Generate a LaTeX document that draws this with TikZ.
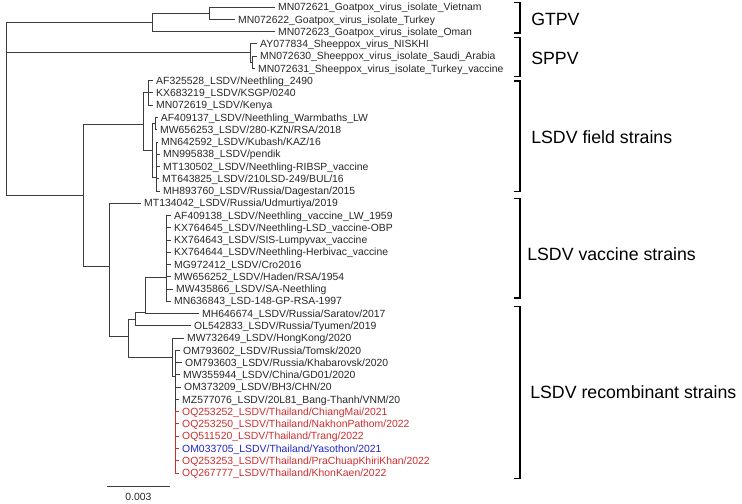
\documentclass[tikz,border=0pt]{standalone}
\usepackage{fontspec}
\setmainfont{Liberation Sans}
\definecolor{thred}{RGB}{205,45,45}
\definecolor{thblue}{RGB}{35,35,200}
\definecolor{branch}{RGB}{60,60,60}
\tikzset{
  leaf/.style={anchor=west, inner sep=2pt, text height=5.6pt, text depth=0pt, font=\fontsize{7.8}{9}\selectfont, text=black!85},
  grp/.style={anchor=west, inner sep=0pt, text height=9.5pt, text depth=0pt, font=\fontsize{13.3}{15}\selectfont},
  edge/.style={draw=branch, line width=0.6pt},
  redge/.style={draw=thred, line width=0.6pt}
}
\begin{document}
\begin{tikzpicture}[x=0.75pt, y=-0.75pt]
\useasboundingbox (0,0) rectangle (742,503);
% inner vertices
\coordinate (int0) at (6,108);
\coordinate (gtp0) at (152,22.3);
\coordinate (gtp1) at (209,13.1);
\coordinate (spp0) at (250,52);
\coordinate (spp1) at (252,62.2);
\coordinate (lsd0) at (83,195);
\coordinate (fld0) at (143,124);
\coordinate (fld1) at (148,92.8);
\coordinate (fld2) at (152,150);
\coordinate (fld3) at (155,123.5);
\coordinate (fld4) at (156,177);
\coordinate (vac0) at (109,266);
\coordinate (vac1) at (128,336);
\coordinate (vac2) at (135,319);
\coordinate (vac3) at (145,312);
\coordinate (vac4) at (166,277);
\coordinate (rec0) at (172,357);
\coordinate (rec1) at (175,376);
\coordinate (rec2) at (175,442);
% GTPV
\node[leaf] (tip1) at (275.3,7.0){MN072621\_Goatpox\_virus\_isolate\_Vietnam};
\node[leaf] (tip2) at (235.3,19.3){MN072622\_Goatpox\_virus\_isolate\_Turkey};
\node[leaf] (tip3) at (275.3,31.5){MN072623\_Goatpox\_virus\_isolate\_Oman};
\draw[edge](gtp1) |- (tip1.west);
\draw[edge](gtp1) |- (tip2.west);
\draw[edge](gtp0) |- (gtp1);
\draw[edge](gtp0) |- (tip3.west);
% SPPV
\node[leaf] (tip4) at (257.3,43.8){AY077834\_Sheeppox\_virus\_NISKHI};
\node[leaf] (tip5) at (257.3,56.0){MN072630\_Sheeppox\_virus\_isolate\_Saudi\_Arabia};
\node[leaf] (tip6) at (255.3,68.3){MN072631\_Sheeppox\_virus\_isolate\_Turkey\_vaccine};
\draw[edge](spp1) |- (tip5.west);
\draw[edge](spp1) |- (tip6.west);
\draw[edge](spp0) |- (tip4.west);
\draw[edge](spp0) |- (spp1);
% LSDV field strains
\node[leaf] (tip7) at (153.3,80.6){AF325528\_LSDV/Neethling\_2490};
\node[leaf] (tip8) at (153.3,92.8){KX683219\_LSDV/KSGP/0240};
\node[leaf] (tip9) at (153.3,105.1){MN072619\_LSDV/Kenya};
\node[leaf] (tip10) at (158.0,117.3){AF409137\_LSDV/Neethling\_Warmbaths\_LW};
\node[leaf] (tip11) at (157.3,129.6){MW656253\_LSDV/280-KZN/RSA/2018};
\node[leaf] (tip12) at (158.3,141.9){MN642592\_LSDV/Kubash/KAZ/16};
\node[leaf] (tip13) at (160.3,154.1){MN995838\_LSDV/pendik};
\node[leaf] (tip14) at (160.3,166.4){MT130502\_LSDV/Neethling-RIBSP\_vaccine};
\node[leaf] (tip15) at (159.3,178.6){MT643825\_LSDV/210LSD-249/BUL/16};
\node[leaf] (tip16) at (160.3,190.9){MH893760\_LSDV/Russia/Dagestan/2015};
\draw[edge](fld1) |- (tip7.west);
\draw[edge](fld1) |- (tip8.west);
\draw[edge](fld1) |- (tip9.west);
\draw[edge](fld3) |- (tip10.west);
\draw[edge](fld3) |- (tip11.west);
\draw[edge](fld4) |- (tip12.west);
\draw[edge](fld4) |- (tip13.west);
\draw[edge](fld4) |- (tip14.west);
\draw[edge](fld4) |- (tip15.west);
\draw[edge](fld4) |- (tip16.west);
\draw[edge](fld2) |- (fld3);
\draw[edge](fld2) |- (fld4);
\draw[edge](fld0) |- (fld1);
\draw[edge](fld0) |- (fld2);
% LSDV vaccine strains
\node[leaf] (tip17) at (141.3,203.2){MT134042\_LSDV/Russia/Udmurtiya/2019};
\node[leaf] (tip18) at (171.3,215.4){AF409138\_LSDV/Neethling\_vaccine\_LW\_1959};
\node[leaf] (tip19) at (171.3,227.7){KX764645\_LSDV/Neethling-LSD\_vaccine-OBP};
\node[leaf] (tip20) at (171.3,239.9){KX764643\_LSDV/SIS-Lumpyvax\_vaccine};
\node[leaf] (tip21) at (171.3,252.2){KX764644\_LSDV/Neethling-Herbivac\_vaccine};
\node[leaf] (tip22) at (171.3,264.5){MG972412\_LSDV/Cro2016};
\node[leaf] (tip23) at (171.3,276.7){MW656252\_LSDV/Haden/RSA/1954};
\node[leaf] (tip24) at (173.3,289.0){MW435866\_LSDV/SA-Neethling};
\node[leaf] (tip25) at (171.3,301.2){MN636843\_LSD-148-GP-RSA-1997};
\foreach \i in {18,...,25}
  \draw[edge](vac4) |- (tip\i.west);
% LSDV recombinant strains
\node[leaf] (tip26) at (199.3,313.5){MH646674\_LSDV/Russia/Saratov/2017};
\node[leaf] (tip27) at (191.3,325.8){OL542833\_LSDV/Russia/Tyumen/2019};
\node[leaf] (tip28) at (184.3,338.0){MW732649\_LSDV/HongKong/2020};
\node[leaf] (tip29) at (180.3,350.3){OM793602\_LSDV/Russia/Tomsk/2020};
\node[leaf] (tip30) at (182.3,362.5){OM793603\_LSDV/Russia/Khabarovsk/2020};
\node[leaf] (tip31) at (180.3,374.8){MW355944\_LSDV/China/GD01/2020};
\node[leaf] (tip32) at (181.3,387.1){OM373209\_LSDV/BH3/CHN/20};
\node[leaf] (tip33) at (179.3,399.3){MZ577076\_LSDV/20L81\_Bang-Thanh/VNM/20};
\node[leaf, text=thred] (tip34) at (179.3,411.6){OQ253252\_LSDV/Thailand/ChiangMai/2021};
\node[leaf, text=thred] (tip35) at (179.3,423.8){OQ253250\_LSDV/Thailand/NakhonPathom/2022};
\node[leaf, text=thred] (tip36) at (179.3,436.1){OQ511520\_LSDV/Thailand/Trang/2022};
\node[leaf, text=thblue] (tip37) at (179.3,448.4){OM033705\_LSDV/Thailand/Yasothon/2021};
\node[leaf, text=thred] (tip38) at (179.3,460.6){OQ253253\_LSDV/Thailand/PraChuapKhiriKhan/2022};
\node[leaf, text=thred] (tip39) at (179.3,472.9){OQ267777\_LSDV/Thailand/KhonKaen/2022};
\foreach \i in {29,...,33}
  \draw[edge](rec1) |- (tip\i.west);
\draw[edge](rec1) |- (rec2);
\foreach \i in {34,...,39}
  \draw[redge](rec2) |- (tip\i.west);
\draw[edge](rec0) |- (tip28.west);
\draw[edge](rec0) |- (rec1);
\draw[edge](vac3) |- (vac4);
\draw[edge](vac3) |- (tip26.west);
\draw[edge](vac2) |- (vac3);
\draw[edge](vac2) |- (tip27.west);
\draw[edge](vac1) |- (vac2);
\draw[edge](vac1) |- (rec0);
\draw[edge](vac0) |- (tip17.west);
\draw[edge](vac0) |- (vac1);
\draw[edge](lsd0) |- (fld0);
\draw[edge](lsd0) |- (vac0);
% root
\draw[edge](int0) |- (gtp0);
\draw[edge](int0) |- (spp0);
\draw[edge](int0) |- (lsd0);
% clade brackets
\draw[line width=0.9pt] (514,2.7) -| (520,33) -- (514,33);
\draw[line width=0.9pt] (514,37.7) -| (520,76.7) -- (514,76.7);
\draw[line width=0.9pt] (514,81) -| (520,191.7) -- (514,191.7);
\draw[line width=0.9pt] (514,198.3) -| (520,298) -- (514,298);
\draw[line width=0.9pt] (514,306.7) -| (520,478.3) -- (514,478.3);
\node[grp] (gtpv) at (531,19){GTPV};
\node[grp] (sppv) at (531,58){SPPV};
\node[grp] (field) at (531,137){LSDV field strains};
\node[grp] (vaccine) at (527,254){LSDV vaccine strains};
\node[grp] (recomb) at (530,392){LSDV recombinant strains};
% scale bar
\coordinate (sb0) at (107,486);
\coordinate (sb1) at (170,486);
\draw[edge](sb0) -- (sb1);
\node[leaf, anchor=center] (sbl) at (138.5,497){0.003};
\end{tikzpicture}
\end{document}
